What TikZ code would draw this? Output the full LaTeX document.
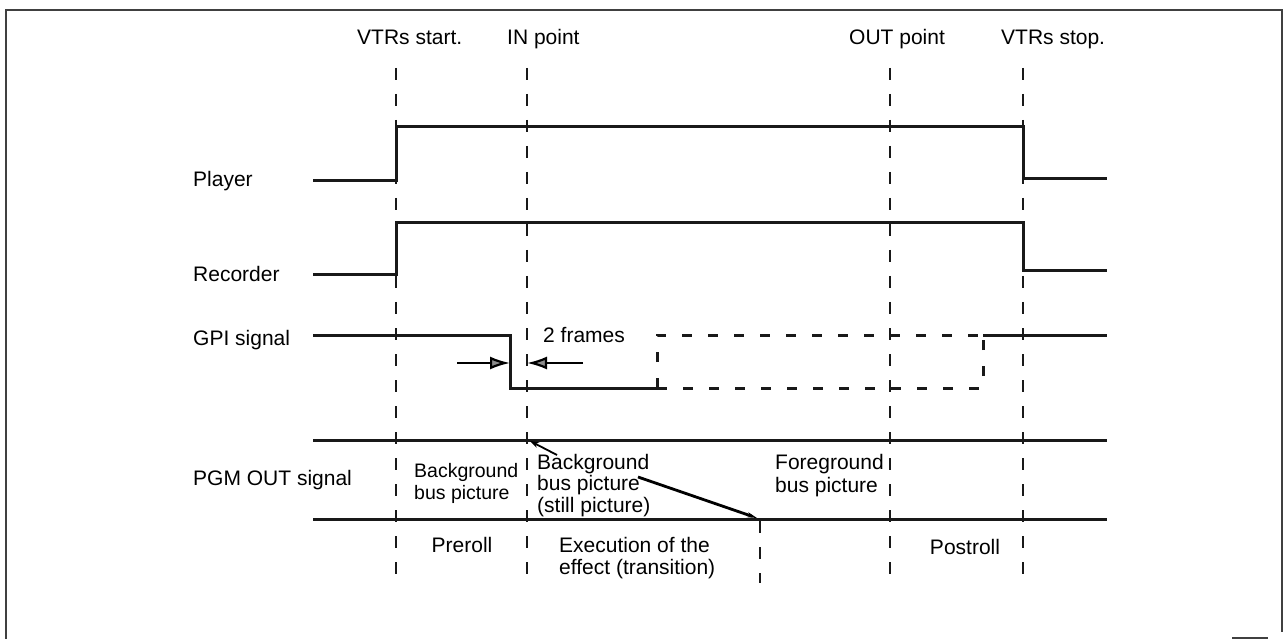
\documentclass[tikz,border=0pt]{standalone}
\usepackage{fontspec}
\setmainfont{Liberation Sans}
\usetikzlibrary{arrows.meta}
\begin{document}
\begin{tikzpicture}[x=1pt,y=-1pt,
  sig/.style={line width=3pt, line cap=butt, line join=miter, black!90},
  vguide/.style={line width=2.8pt, dash pattern=on 12pt off 14pt, black!90},
  altsig/.style={line width=3pt, dash pattern=on 10pt off 16pt, black!90},
  lbl/.style={anchor=base west, inner sep=0pt, font=\fontsize{21}{25}\selectfont},
  slbl/.style={anchor=base west, inner sep=0pt, font=\fontsize{19.5}{24}\selectfont},
  clbl/.style={anchor=base, inner sep=0pt, font=\fontsize{21}{25}\selectfont},
  dimarrow/.style={line width=2.2pt, -{Latex[length=20pt,width=13pt,fill=black!45]}},
  frameline/.style={line width=1.4pt, black!75}
]
\useasboundingbox (0,0) rectangle (1286,639);

% frame
\draw[frameline] (6,639) -- (6,10) -- (1282,10) -- (1282,632);
\draw[frameline] (1232,638) -- (1268,638);

% time markers (top labels)
\node[lbl] (tstart) at (357,45) {VTRs start.};
\node[lbl] (tin) at (507,45) {IN point};
\node[lbl] (tout) at (849,45) {OUT point};
\node[lbl] (tstop) at (1001,45) {VTRs stop.};

% guide coordinates
\coordinate (gA1) at (396,68);  \coordinate (gA2) at (396,583);
\coordinate (gB1) at (527,68);  \coordinate (gB2) at (527,583);
\coordinate (gC1) at (890,68);  \coordinate (gC2) at (890,583);
\coordinate (gD1) at (1023,68); \coordinate (gD2) at (1023,583);
\coordinate (gE1) at (760,521); \coordinate (gE2) at (760,583);
\draw[vguide] (gA1) -- (gA2);
\draw[vguide] (gB1) -- (gB2);
\draw[vguide] (gC1) -- (gC2);
\draw[vguide] (gD1) -- (gD2);
\draw[vguide] (gE1) -- (gE2);

% row labels
\node[lbl] (lplayer) at (193,187) {Player};
\node[lbl] (lrec) at (193,282) {Recorder};
\node[lbl] (lgpi) at (193,345) {GPI signal};
\node[lbl] (lpgm) at (193,485) {PGM OUT signal};

% Player
\draw[sig] (313,181) -- (396,181) -- (396,127) -- (1023,127) -- (1023,179) -- (1107,179);
% Recorder
\draw[sig] (313,275) -- (396,275) -- (396,223) -- (1023,223) -- (1023,271) -- (1107,271);
% GPI signal
\draw[sig] (313,335) -- (510,335) -- (510,388) -- (662,388);
\draw[altsig] (657,388) -- (983,388) -- (983,335);
\draw[altsig] (657,388) -- (657,335) -- (983,335);
\draw[sig] (983,335) -- (1107,335);
% 2 frames
\coordinate (fa) at (457,363); \coordinate (fb) at (510,363);
\coordinate (fc) at (583,363); \coordinate (fd) at (527,363);
\draw[dimarrow] (fa) -- (fb);
\draw[dimarrow] (fc) -- (fd);
\node[lbl] (twof) at (543,342) {2 frames};

% PGM OUT
\draw[sig] (313,440) -- (1107,440);
\draw[sig] (313,519) -- (1107,519);
\node[slbl] (bg1a) at (414,477) {Background};
\node[slbl] (bg1b) at (414,499) {bus picture};
\node[lbl] (bg2a) at (537,469) {Background};
\node[lbl] (bg2b) at (537,490) {bus picture};
\node[lbl] (bg2c) at (537,512) {(still picture)};
\node[lbl] (fg1) at (775,469) {Foreground};
\node[lbl] (fg2) at (775,492) {bus picture};
\coordinate (ldr) at (530,441);
\draw[line width=1.8pt, -{Stealth[length=9pt,width=6pt]}] (557,455) -- (ldr);
\coordinate (dg1) at (638,477); \coordinate (dg2) at (757,518);
\draw[line width=2.8pt, -{Stealth[length=10pt,width=5pt]}] (dg1) -- (dg2);

% bottom labels
\node[clbl] (pre) at (462,552) {Preroll};
\node[lbl] (ex1) at (559,552) {Execution of the};
\node[lbl] (ex2) at (559,574) {effect (transition)};
\node[clbl] (post) at (965,554) {Postroll};
\end{tikzpicture}
\end{document}
